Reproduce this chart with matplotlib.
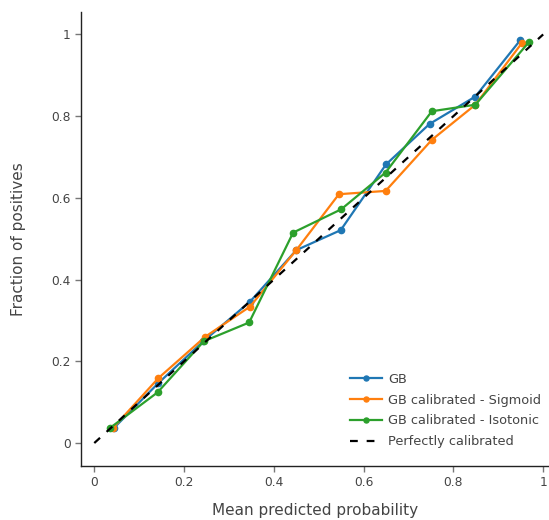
import matplotlib
matplotlib.use("Agg")
import matplotlib.pyplot as plt

# calibration curve data (mean predicted prob, fraction of positives)
gb_x = [0.043, 0.143, 0.243, 0.347, 0.450, 0.549, 0.650, 0.747, 0.849, 0.949]
gb_y = [0.036, 0.147, 0.249, 0.346, 0.472, 0.521, 0.682, 0.781, 0.848, 0.986]

sig_x = [0.041, 0.143, 0.247, 0.347, 0.450, 0.545, 0.649, 0.752, 0.849, 0.952]
sig_y = [0.036, 0.159, 0.260, 0.334, 0.472, 0.609, 0.617, 0.742, 0.828, 0.978]

iso_x = [0.034, 0.141, 0.244, 0.345, 0.443, 0.550, 0.649, 0.752, 0.849, 0.969]
iso_y = [0.036, 0.124, 0.249, 0.295, 0.515, 0.572, 0.662, 0.812, 0.828, 0.982]

diag = [0, 1]

text_color = "#444444"
plt.rcParams["font.family"] = ["DejaVu Sans"]

fig = plt.figure(figsize=(5.49, 5.2), dpi=100)
ax = fig.add_axes([0.148, 0.104, 0.852, 0.873])

ax.plot(gb_x, gb_y, "-o", color="#1f77b4", lw=1.6, ms=4.5, label="GB")
ax.plot(sig_x, sig_y, "-o", color="#ff7f0e", lw=1.6, ms=4.5, label="GB calibrated - Sigmoid")
ax.plot(iso_x, iso_y, "-o", color="#2ca02c", lw=1.6, ms=4.5, label="GB calibrated - Isotonic")
ax.plot(diag, diag, "--", color="black", lw=1.6, dashes=(3.5, 4), label="Perfectly calibrated")

ax.set_xlim(-0.029, 1.013)
ax.set_ylim(-0.056, 1.055)

ticks = [0, 0.2, 0.4, 0.6, 0.8, 1]
labels = ["0", "0.2", "0.4", "0.6", "0.8", "1"]
ax.set_xticks(ticks, labels)
ax.set_yticks(ticks, labels)
ax.tick_params(colors="#777777", labelcolor=text_color, labelsize=8.8, length=4, width=1)

for s in ["top", "right"]:
    ax.spines[s].set_visible(False)
for s in ["left", "bottom"]:
    ax.spines[s].set_color("#222222")
    ax.spines[s].set_linewidth(1)

ax.set_xlabel("Mean predicted probability", color=text_color, fontsize=11, labelpad=10)
ax.set_ylabel("Fraction of positives", color=text_color, fontsize=11, labelpad=18)

leg = ax.legend(loc="upper left", bbox_to_anchor=(350 / 549, 1 - 373 / 520),
                bbox_transform=fig.transFigure, frameon=False, borderpad=0,
                borderaxespad=0, fontsize=9.3, handlelength=2.5, markerscale=0.8,
                labelspacing=0.6, handletextpad=0.45)
for t in leg.get_texts():
    t.set_color(text_color)

fig.savefig("out.png", dpi=100)
